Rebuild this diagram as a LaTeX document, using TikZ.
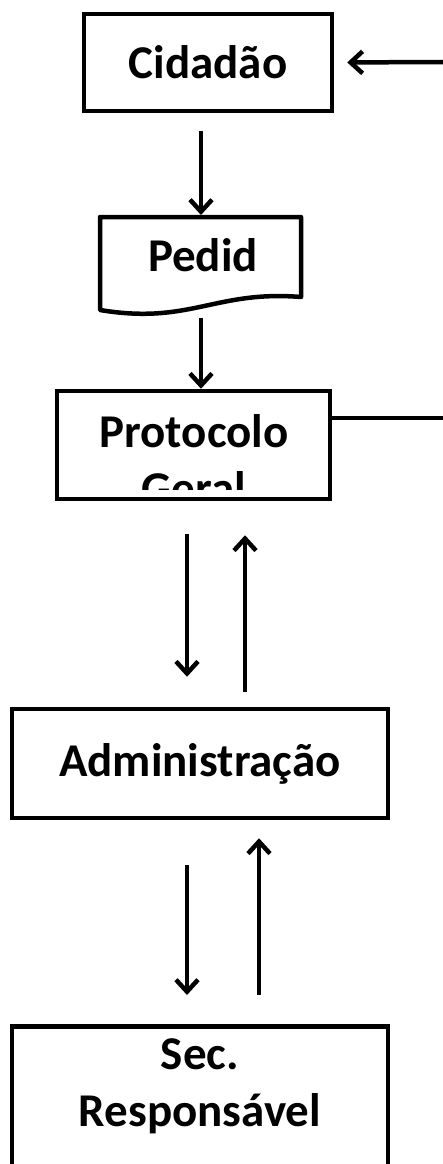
\documentclass[tikz,border=0pt]{standalone}
\usepackage{fontspec}
\setmainfont{Carlito}
\usetikzlibrary{arrows.meta}
\tikzset{
  box/.style={draw, line width=4.5pt, rectangle, inner sep=0pt},
  lbl/.style={font=\bfseries\fontsize{47}{57}\selectfont, inner sep=0pt},
  arr/.style={line width=4.5pt, -{Straight Barb[length=12pt,width=22pt,line width=4.5pt]}},
}
\begin{document}
\begin{tikzpicture}[x=1pt, y=-1pt]
  \clip (0,0) rectangle (443,1164);
  \coordinate (colA) at (201,0);
  \coordinate (colB) at (187,0);
  \coordinate (colC) at (245,0);
  \coordinate (colD) at (259,0);
  \coordinate (inCid) at (443,62);
  \coordinate (outProto) at (443,418);
  \coordinate (pedTop) at (201,215);
  \coordinate (pedBot) at (201,308);

  \node[box, lbl, minimum width=248pt, minimum height=97pt] (cid) at (208,62.5) {Cidadão};

  \draw[line width=4.5pt, line join=round] (100,217) -- (301,217) -- (301,297)
    .. controls (215,290) and (190,325) .. (100,310) -- cycle;
  \node[lbl] (ped) at (203,255) {Pedid};

  \node[box, minimum width=273pt, minimum height=108pt] (proto) at (193.5,445) {};
  \begin{scope}
    \clip (59,393) rectangle (328,489);
    \node[lbl, align=center] (protoTxt) at (194,460) {Protocolo\\Geral};
  \end{scope}

  \node[box, lbl, minimum width=376pt, minimum height=109pt] (admin) at (200,763.5) {Administração};

  \node[box, minimum width=376pt, minimum height=184pt, anchor=north] (sec) at (200,1024) {};
  \node[lbl, align=center] (secTxt) at (200,1086) {Sec.\\Responsável};

  \draw[arr, shorten >=13pt] (inCid) -- (cid.east);
  \draw[arr, shorten <=18pt] (cid.south -| colA) -- (pedTop);
  \draw[arr, shorten <=10pt] (pedBot) -- (proto.north -| colA);
  \draw[line width=4.5pt] (proto.east |- outProto) -- (outProto);
  \draw[arr, shorten <=33pt, shorten >=30pt] (proto.south -| colB) -- (admin.north -| colB);
  \draw[arr, shorten <=15pt, shorten >=34pt] (admin.north -| colC) -- (proto.south -| colC);
  \draw[arr, shorten <=45pt, shorten >=29pt] (admin.south -| colB) -- (sec.north -| colB);
  \draw[arr, shorten <=29pt, shorten >=18pt] (sec.north -| colD) -- (admin.south -| colD);
\end{tikzpicture}
\end{document}
